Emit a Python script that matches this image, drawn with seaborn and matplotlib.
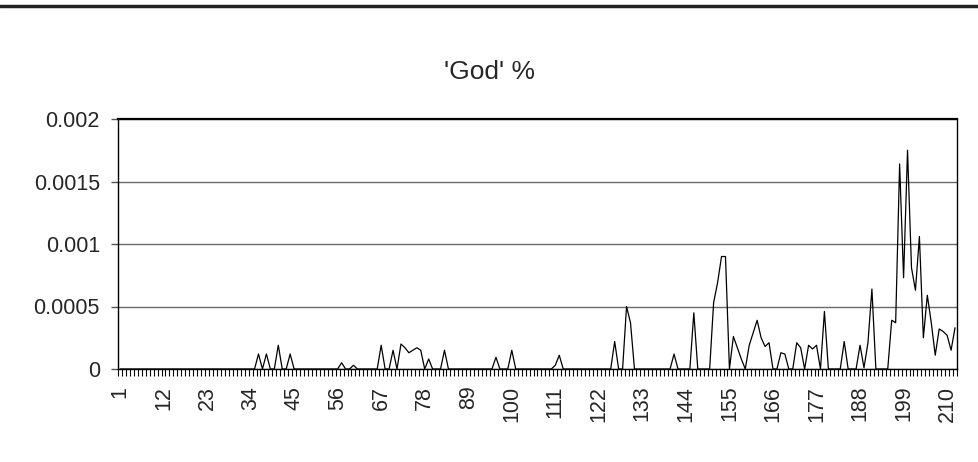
import pandas as pd
import seaborn as sns
import matplotlib
matplotlib.use('Agg')
import matplotlib.pyplot as plt
from matplotlib.lines import Line2D
from matplotlib.ticker import FixedLocator

# share of 'God' per text, 212 texts
god_pct = [
    0, 0, 0, 0, 0, 0, 0, 0, 0, 0,
    0, 0, 0, 0, 0, 0, 0, 0, 0, 0,
    0, 0, 0, 0, 0, 0, 0, 0, 0, 0,
    0, 0, 0, 0, 0, 0.00012, 0, 0.00012, 0, 0,
    0.00019, 0, 0, 0.00012, 0, 0, 0, 0, 0, 0,
    0, 0, 0, 0, 0, 0, 0.00005, 0, 0, 0.00003,
    0, 0, 0, 0, 0, 0, 0.00019, 0, 0, 0.00015,
    0, 0.0002, 0.00017, 0.00013, 0.00015, 0.00017, 0.00015, 0, 0.00008, 0,
    0, 0, 0.00015, 0, 0, 0, 0, 0, 0, 0,
    0, 0, 0, 0, 0, 0.000094, 0, 0, 0, 0.00015,
    0, 0, 0, 0, 0, 0, 0, 0, 0, 0,
    0.00003, 0.00011, 0, 0, 0, 0, 0, 0, 0, 0,
    0, 0, 0, 0, 0, 0.00022, 0, 0, 0.0005, 0.00037,
    0, 0, 0, 0, 0, 0, 0, 0, 0, 0,
    0.00012, 0, 0, 0, 0, 0.00045, 0, 0, 0, 0,
    0.00053, 0.00069, 0.0009, 0.0009, 0, 0.00026, 0.00017, 0.00008, 0, 0.00019,
    0.00029, 0.00039, 0.00025, 0.00018, 0.00021, 0, 0, 0.00013, 0.00012, 0,
    0, 0.00021, 0.00017, 0, 0.00019, 0.00016, 0.00019, 0, 0.00046, 0,
    0, 0, 0, 0.00022, 0, 0, 0, 0.00019, 0.00001, 0.00021,
    0.00064, 0, 0, 0, 0, 0.00039, 0.00037, 0.00164, 0.00073, 0.00175,
    0.00081, 0.00063, 0.00106, 0.00025, 0.00059, 0.00037, 0.00011, 0.00032, 0.0003, 0.00027,
    0.00015, 0.00033,
]
text_no = list(range(1, len(god_pct) + 1))

x_ticks = [1, 12, 23, 34, 45, 56, 67, 78, 89, 100, 111, 122, 133, 144, 155, 166, 177, 188, 199, 210]
y_ticks = [0, 0.0005, 0.001, 0.0015, 0.002]
y_tick_labels = ['0', '0.0005', '0.001', '0.0015', '0.002']

df = pd.DataFrame({'text': text_no, 'pct': god_pct})

sns.set_style('white')
plt.rcParams['font.family'] = ['Liberation Sans', 'DejaVu Sans']

fig = plt.figure(figsize=(9.79, 4.62), dpi=100)
ax = fig.add_axes([118 / 979, 1 - 369 / 462, (957 - 118) / 979, (369 - 119) / 462])

sns.lineplot(data=df, x='text', y='pct', color='black', linewidth=0.9, ax=ax)

ax.set_xlim(0.5, len(god_pct) + 0.5)
ax.set_ylim(0, 0.002)

# y axis
ax.set_yticks(y_ticks)
ax.set_yticklabels(y_tick_labels, fontsize=15.5)
ax.yaxis.grid(True, color='#6a6a6a', linewidth=1.0)
ax.set_axisbelow(True)
ax.tick_params(axis='y', direction='out', length=5, width=1, color='#555555', pad=8, left=True)

# x axis: labels every 11 texts, tick marks between every category
ax.set_xticks(x_ticks)
ax.set_xticklabels([str(t) for t in x_ticks], rotation=90, fontsize=15.5)
ax.xaxis.set_minor_locator(FixedLocator([t + 0.5 for t in range(0, len(god_pct) + 1)]))
ax.tick_params(axis='x', which='major', length=0, pad=12, bottom=True)
ax.tick_params(axis='x', which='minor', direction='out', length=5, width=0.8, color='black', bottom=True)

ax.set_xlabel('')
ax.set_ylabel('')

for side in ['left', 'right', 'bottom']:
    ax.spines[side].set_visible(True)
    ax.spines[side].set_color('black')
    ax.spines[side].set_linewidth(1.0)
ax.spines['top'].set_visible(True)
ax.spines['top'].set_color('black')
ax.spines['top'].set_linewidth(1.6)

fig.text(0.5, 1 - 72 / 462, "'God' %", ha='center', va='center', fontsize=19)

# rule across the top of the figure
fig.add_artist(Line2D([0, 1], [1 - 6 / 462, 1 - 6 / 462], transform=fig.transFigure,
                      color='#222222', linewidth=2.5))

fig.savefig('out.png', dpi=100)
